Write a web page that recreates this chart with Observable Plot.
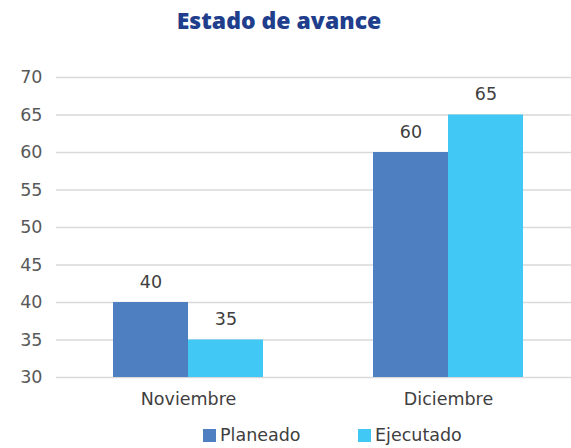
<!DOCTYPE html>
<html>
<head>
<meta charset="utf-8">
<script src="https://cdn.jsdelivr.net/npm/d3@7"></script>
<script src="https://cdn.jsdelivr.net/npm/@observablehq/plot@0.6"></script>
<style>
  html, body { margin: 0; padding: 0; background: #fff; width: 571px; height: 448px; overflow: hidden; }
  body { font-family: "DejaVu Sans", sans-serif; }
  #title { width: 558px; height: 40px; line-height: 40px; text-align: center; font-family: "Open Sans", sans-serif; font-size: 23px; font-weight: 800; color: #203e8c; }
  #legend { position: relative; height: 26px; font-size: 17.5px; color: #404040; }
  .item { position: absolute; top: 0; height: 26px; display: flex; align-items: center; }
  .sw { width: 13px; height: 13px; margin-right: 4px; }
</style>
</head>
<body>
<div id="title">Estado de avance</div>
<div id="chart"></div>
<div id="legend"></div>
<script>
const months = ["Noviembre", "Diciembre"];
const series = ["Planeado", "Ejecutado"];
const planeado = [40, 60];
const ejecutado = [35, 65];
const yTicks = [30, 35, 40, 45, 50, 55, 60, 65, 70];
const colors = ["#4e80c1", "#42c8f4"];
const legendLeft = [203, 358];

const yMin = yTicks[0];
const groupWidth = 150;
const half = groupWidth / 2;

const data = months.flatMap((m, i) => [
  {month: m, serie: series[0], value: planeado[i]},
  {month: m, serie: series[1], value: ejecutado[i]}
]);
const dataP = data.filter(d => d.serie === series[0]);
const dataE = data.filter(d => d.serie === series[1]);

const plot = Plot.plot({
  width: 571,
  height: 382,
  marginLeft: 56,
  marginRight: 0,
  marginTop: 37,
  marginBottom: 45,
  style: {fontFamily: "'DejaVu Sans', sans-serif", fontSize: "17px", background: "#fff"},
  x: {domain: months, range: [56, 580], paddingInner: 0.4242, paddingOuter: 0.2179, label: null},
  y: {domain: [yTicks[0], yTicks[yTicks.length - 1]], label: null},
  color: {domain: series, range: colors},
  marks: [
    Plot.gridY(yTicks, {stroke: "#d9d9d9", strokeOpacity: 1, strokeWidth: 1.3}),
    Plot.barY(dataP, {x: "month", y1: yMin, y2: "value", fill: "serie", insetRight: half}),
    Plot.barY(dataE, {x: "month", y1: yMin, y2: "value", fill: "serie", insetLeft: half}),
    Plot.text(dataP, {x: "month", y: "value", text: d => String(d.value), dx: -half / 2, dy: -15, lineAnchor: "bottom", fill: "#404040", fontSize: 17.5}),
    Plot.text(dataE, {x: "month", y: "value", text: d => String(d.value), dx: half / 2, dy: -15, lineAnchor: "bottom", fill: "#404040", fontSize: 17.5}),
    Plot.axisX({tickSize: 0, tickPadding: 15, color: "#404040", fontSize: 17.5, label: null}),
    Plot.axisY(yTicks, {tickSize: 0, tickPadding: 14, color: "#595959", fontSize: 17.5, label: null})
  ]
});
document.getElementById("chart").appendChild(plot);

const legend = document.getElementById("legend");
series.forEach((s, i) => {
  const item = document.createElement("div");
  item.className = "item";
  item.style.left = legendLeft[i] + "px";
  const sw = document.createElement("div");
  sw.className = "sw";
  sw.style.background = colors[i];
  const t = document.createElement("span");
  t.textContent = s;
  item.appendChild(sw);
  item.appendChild(t);
  legend.appendChild(item);
});
</script>
</body>
</html>
